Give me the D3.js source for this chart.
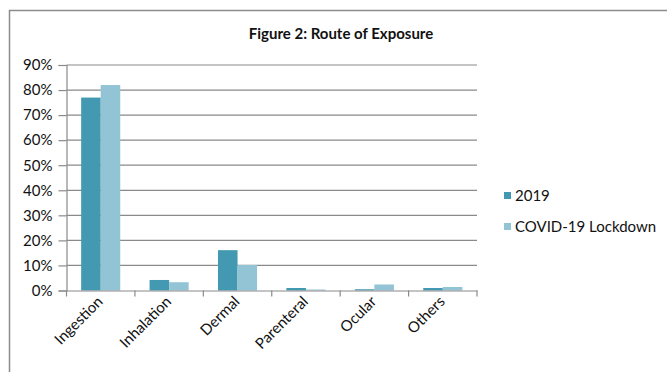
<!DOCTYPE html>
<meta charset="utf-8">
<html>
<head>
<style>
  body { margin: 0; background: #fff; }
  svg { display: block; font-family: Lato, "Open Sans", sans-serif; }
</style>
</head>
<body>
<div id="chart"></div>
<script src="https://d3js.org/d3.v7.min.js"></script>
<script>
// categories and series (fractions)
var routes = ["Ingestion", "Inhalation", "Dermal", "Parenteral", "Ocular", "Others"];
var seriesNames = ["2019", "COVID-19 Lockdown"];
var values2019 = [0.77, 0.042, 0.161, 0.01, 0.005, 0.01];
var valuesLockdown = [0.82, 0.033, 0.102, 0.004, 0.024, 0.014];
var yTicks = [0, 0.1, 0.2, 0.3, 0.4, 0.5, 0.6, 0.7, 0.8, 0.9];
var colors = ["#4399b1", "#93c4d6"];

var width = 667, height = 372;
var plotLeft = 66.5, plotRight = 477, plotTop = 65, plotBottom = 290.5;

var svg = d3.select("#chart").append("svg")
    .attr("width", width)
    .attr("height", height);

// outer frame (left and top edges only visible)
svg.append("path")
    .attr("d", "M9.5,372 V10.5 H667")
    .attr("fill", "none")
    .attr("stroke", "#8c8c8c")
    .attr("stroke-width", 1.5);

svg.append("text")
    .attr("x", 341)
    .attr("y", 39)
    .attr("text-anchor", "middle")
    .attr("font-size", 15)
    .attr("font-weight", "bold")
    .attr("fill", "#111")
    .text("Figure 2: Route of Exposure");

var x = d3.scaleBand().domain(routes).range([plotLeft, plotRight]);
var x1 = d3.scaleBand().domain(seriesNames).range([0, x.bandwidth()]).paddingInner(0).paddingOuter(0.75);
var y = d3.scaleLinear().domain([0, 0.9]).range([plotBottom, plotTop]);

// gridlines
svg.append("g")
    .selectAll("line")
    .data(yTicks.slice(1))
    .join("line")
    .attr("x1", plotLeft).attr("x2", plotRight)
    .attr("y1", d => y(d)).attr("y2", d => y(d))
    .attr("stroke", "#8a8a8a")
    .attr("stroke-width", 1.2);

// y axis
var yAxis = svg.append("g")
    .attr("transform", `translate(${plotLeft},0)`)
    .call(d3.axisLeft(y).tickValues(yTicks).tickFormat(d3.format(".0%")).tickSize(8).tickPadding(6));
yAxis.select(".domain").attr("stroke", "#8a8a8a").attr("stroke-width", 1.2);
yAxis.selectAll(".tick line").attr("stroke", "#8a8a8a").attr("stroke-width", 1.2);
yAxis.selectAll(".tick text").attr("font-size", 15).attr("fill", "#111").attr("font-family", "Lato, sans-serif");

// bars
var rows = routes.map((r, i) => ({ route: r, vals: [values2019[i], valuesLockdown[i]] }));
svg.append("g")
    .selectAll("g")
    .data(rows)
    .join("g")
    .attr("transform", d => `translate(${x(d.route)},0)`)
    .selectAll("rect")
    .data(d => d.vals.map((v, j) => ({ key: seriesNames[j], v: v, j: j })))
    .join("rect")
    .attr("x", d => x1(d.key))
    .attr("width", x1.bandwidth())
    .attr("y", d => y(d.v))
    .attr("height", d => y(0) - y(d.v))
    .attr("fill", d => colors[d.j]);

// x axis
var xAxis = svg.append("g")
    .attr("transform", `translate(0,${plotBottom})`)
    .call(d3.axisBottom(x).tickSize(0).tickFormat(""));
xAxis.select(".domain").attr("stroke", "#8a8a8a").attr("stroke-width", 1.2);

var bounds = routes.map(r => x(r)).concat([plotRight]);
svg.append("g")
    .selectAll("line")
    .data(bounds)
    .join("line")
    .attr("x1", d => d).attr("x2", d => d)
    .attr("y1", plotBottom).attr("y2", plotBottom + 6)
    .attr("stroke", "#8a8a8a")
    .attr("stroke-width", 1.2);

svg.append("g")
    .selectAll("text")
    .data(routes)
    .join("text")
    .attr("transform", d => `translate(${x(d) + x.bandwidth() / 2 + 3},${plotBottom + 12}) rotate(-45)`)
    .attr("text-anchor", "end")
    .attr("font-size", 15)
    .attr("fill", "#111")
    .text(d => d);

// legend
var legend = svg.append("g")
    .selectAll("g")
    .data(seriesNames)
    .join("g")
    .attr("transform", (d, i) => `translate(504,${196 + i * 31})`);
legend.append("rect")
    .attr("x", 0).attr("y", -4)
    .attr("width", 7).attr("height", 7)
    .attr("fill", (d, i) => colors[i]);
legend.append("text")
    .attr("x", 11)
    .attr("y", 5)
    .attr("font-size", 15)
    .attr("fill", "#111")
    .text(d => d);
</script>
</body>
</html>
